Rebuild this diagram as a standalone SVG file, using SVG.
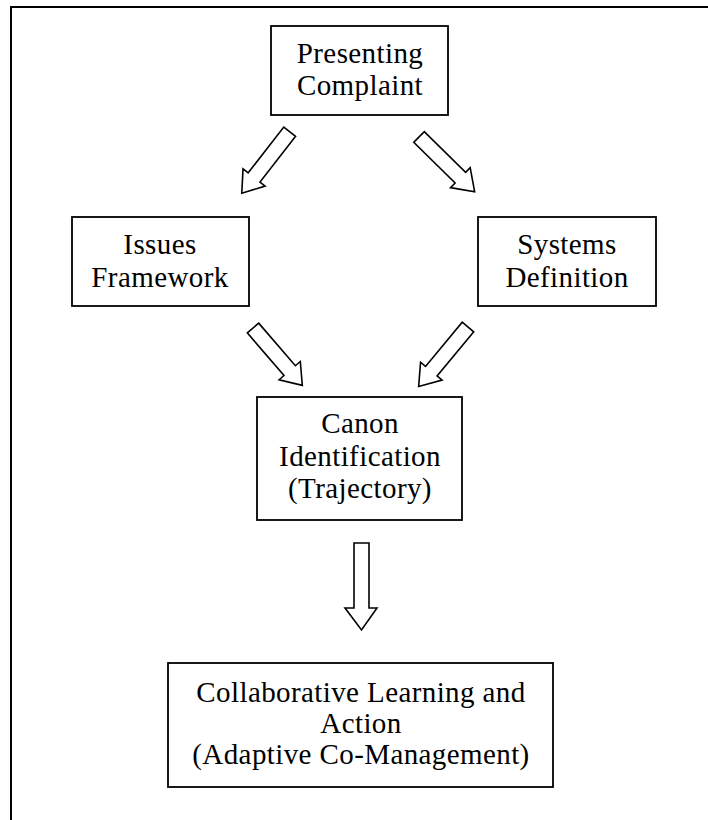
<svg xmlns="http://www.w3.org/2000/svg" width="708" height="820" viewBox="0 0 708 820">
<style>
.box{fill:#fff;stroke:#000;stroke-width:1.8}
.t{font-family:"Liberation Serif","Times New Roman",serif;font-size:29px;letter-spacing:0.4px;fill:#000;text-anchor:middle}
.arr{fill:#fff;stroke:#000;stroke-width:1.6;stroke-linejoin:miter}
.frame{fill:none;stroke:#000;stroke-width:2}
</style>
<defs>
<path id="da" d="M0,-7.5 H58 V-14 L78,0 L58,14 V7.5 H0 Z"/>
</defs>
<rect width="708" height="820" fill="#fff"/>
<path class="frame" d="M11,820 V7 H708"/>
<g id="connectors">
<use href="#da" class="arr" transform="translate(289.7,131.7) rotate(127.9)"/>
<use href="#da" class="arr" transform="translate(419,137) rotate(44.5)"/>
<use href="#da" class="arr" transform="translate(253,328) rotate(49.3) scale(0.97,1)"/>
<use href="#da" class="arr" transform="translate(468,327) rotate(129.7) scale(0.99,1)"/>
<path class="arr" d="M354,543 H369 V608 H377 L361.5,630 L345,608 H354 Z"/>
</g>
<g id="presenting">
<rect class="box" x="271" y="26" width="177" height="89"/>
<text class="t" x="360" y="63">Presenting</text>
<text class="t" x="360" y="95">Complaint</text>
</g>
<g id="issues">
<rect class="box" x="72" y="217" width="177" height="89"/>
<text class="t" x="160" y="254">Issues</text>
<text class="t" x="160" y="287">Framework</text>
</g>
<g id="systems">
<rect class="box" x="478" y="217" width="178" height="89"/>
<text class="t" x="567" y="254">Systems</text>
<text class="t" x="567" y="287">Definition</text>
</g>
<g id="canon">
<rect class="box" x="257" y="397" width="205" height="123"/>
<text class="t" x="360" y="433">Canon</text>
<text class="t" x="360" y="466">Identification</text>
<text class="t" x="360" y="498">(Trajectory)</text>
</g>
<g id="collaborative">
<rect class="box" x="168" y="663" width="385" height="124"/>
<text class="t" x="361" y="702">Collaborative Learning and</text>
<text class="t" x="361" y="733">Action</text>
<text class="t" x="361" y="764">(Adaptive Co-Management)</text>
</g>
</svg>
